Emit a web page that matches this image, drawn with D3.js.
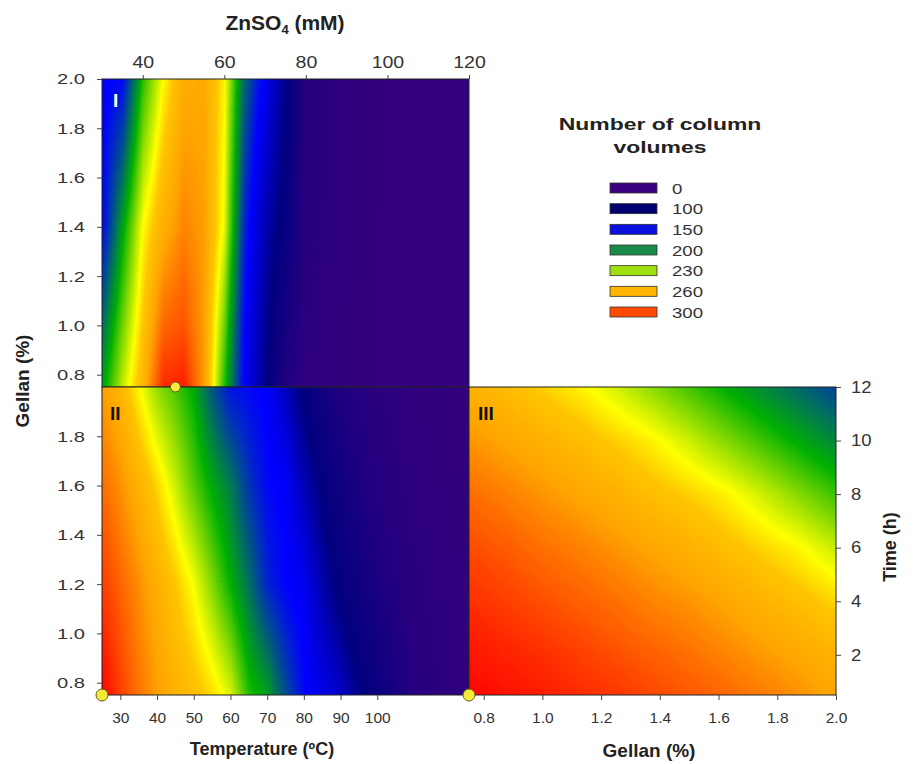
<!DOCTYPE html>
<html>
<head>
<meta charset="utf-8">
<script src="https://cdn.jsdelivr.net/npm/d3@7"></script>
<style>
  body { margin: 0; background: #fff; }
  text { font-family: "Liberation Sans", Arial, sans-serif; }
</style>
</head>
<body>
<svg id="chart" width="914" height="764"></svg>
<script>
// colour stops of the surfaces (number of column volumes)
var levels = [0, 100, 150, 200, 235, 245, 260, 300];
var levelColors = ["#33007f", "#000080", "#0000ff", "#00b000", "#ffff00", "#ffc400", "#ffa500", "#ff0000"];

// legend entries
var legendValues = ["0", "100", "150", "200", "230", "260", "300"];
var legendColors = ["#3a0082", "#000070", "#0a10e0", "#1a8a4a", "#a0e010", "#ffb400", "#ff4a00"];

// panel I : ZnSO4 (mM) vs gellan (%)
var znso4 = [30, 35, 40, 45, 50, 55, 60, 65, 70, 75, 80, 90, 100, 120];
var gellanRowsI = [2.0, 1.4, 1.0, 0.75];
var volumesI = [
  [148, 152, 205, 235, 256, 258, 237, 178, 145, 105, 30, 5, 0, 0],
  [150, 196, 235, 255, 268, 262, 232, 160, 120, 90, 25, 4, 0, 0],
  [180, 215, 245, 275, 280, 262, 215, 150, 110, 60, 15, 3, 0, 0],
  [195, 226, 252, 290, 293, 262, 205, 148, 105, 40, 10, 2, 0, 0]
];

// panel II : temperature (ºC) vs gellan (%)
var temperature = [25, 30, 35, 40, 45, 50, 55, 60, 65, 70, 75, 80, 90, 100, 110, 125];
var gellanRowsII = [2.0, 1.6, 1.2, 0.75];
var volumesII = [
  [262, 252, 236, 220, 210, 198, 174, 155, 152, 148, 125, 95, 40, 15, 5, 0],
  [274, 265, 254, 242, 228, 212, 198, 185, 165, 152, 148, 122, 70, 30, 10, 0],
  [286, 276, 266, 255, 245, 234, 218, 200, 182, 160, 150, 145, 92, 50, 18, 2],
  [300, 285, 272, 262, 254, 248, 241, 230, 205, 195, 172, 152, 128, 80, 25, 5]
];

// panel III : gellan (%) vs time (h)
var gellanCols = [0.75, 0.875, 1.0, 1.125, 1.25, 1.375, 1.5, 1.625, 1.75, 1.875, 2.0];
var timeRows = [12, 10, 8, 6, 4, 2, 0.5];
var volumesIII = [
  [254, 249, 243, 237, 229, 219, 209, 199, 189, 179, 169],
  [264, 259, 254, 249, 243, 237, 228, 218, 208, 198, 188],
  [274, 269, 264, 259, 254, 248, 243, 237, 228, 218, 208],
  [282, 278, 273, 269, 264, 259, 254, 248, 242, 236, 227],
  [289, 285, 281, 277, 273, 268, 264, 259, 253, 248, 242],
  [295, 292, 289, 285, 281, 277, 273, 268, 263, 258, 253],
  [299, 296, 293, 290, 287, 283, 279, 275, 270, 265, 258]
];

// optimum points
var optimumI = [48, 0.75];     // ZnSO4, gellan
var optimumII = [25, 0.75];    // temperature, gellan
var optimumIII = [0.75, 0.5];  // gellan, time

var svg = d3.select("#chart");

var xZn = d3.scaleLinear().domain([30, 120]).range([102, 469]);
var yI = d3.scaleLinear().domain([0.75, 2.0]).range([387, 79]);
var xT = d3.scaleLinear().domain([25, 125]).range([102, 469]);
var yII = d3.scaleLinear().domain([0.75, 2.0]).range([695, 387]);
var xG = d3.scaleLinear().domain([0.75, 2.0]).range([469, 836]);
var yTime = d3.scaleLinear().domain([0.5, 12]).range([695, 387]);

var color = d3.scaleLinear().domain(levels).range(levelColors).clamp(true);
var lut = d3.range(0, 301).map(function(v) { return d3.rgb(color(v)); });

// bilinear lookup in a grid of readings
function surface(xs, ys, grid) {
  var fi = d3.scaleLinear().domain(xs).range(d3.range(xs.length)).clamp(true);
  var fj = d3.scaleLinear().domain(ys).range(d3.range(ys.length)).clamp(true);
  return function(x, y) {
    var a = fi(x), b = fj(y);
    var i = Math.min(Math.floor(a), xs.length - 2), j = Math.min(Math.floor(b), ys.length - 2);
    var tx = a - i, ty = b - j;
    var top = grid[j][i] * (1 - tx) + grid[j][i + 1] * tx;
    var bot = grid[j + 1][i] * (1 - tx) + grid[j + 1][i + 1] * tx;
    return top * (1 - ty) + bot * ty;
  };
}

function drawField(xs, ys, f) {
  var x0 = xs.range()[0], x1 = xs.range()[1];
  var y0 = ys.range()[1], y1 = ys.range()[0];
  var w = Math.round(x1 - x0), h = Math.round(y1 - y0);
  var canvas = document.createElement("canvas");
  canvas.width = w; canvas.height = h;
  var ctx = canvas.getContext("2d");
  var img = ctx.createImageData(w, h);
  for (var j = 0; j < h; j++) {
    var yv = ys.invert(y0 + j + 0.5);
    for (var i = 0; i < w; i++) {
      var v = f(xs.invert(x0 + i + 0.5), yv);
      var c = lut[Math.max(0, Math.min(300, Math.round(v)))];
      var k = (j * w + i) * 4;
      img.data[k] = c.r; img.data[k + 1] = c.g; img.data[k + 2] = c.b; img.data[k + 3] = 255;
    }
  }
  ctx.putImageData(img, 0, 0);
  svg.append("image")
    .attr("x", x0).attr("y", y0)
    .attr("width", w).attr("height", h)
    .attr("preserveAspectRatio", "none")
    .attr("href", canvas.toDataURL());
  svg.append("rect")
    .attr("x", x0).attr("y", y0)
    .attr("width", w).attr("height", h)
    .attr("fill", "none")
    .attr("stroke", "#222")
    .attr("stroke-width", 1);
}

drawField(xZn, yI, surface(znso4, gellanRowsI, volumesI));
drawField(xT, yII, surface(temperature, gellanRowsII, volumesII));
drawField(xG, yTime, surface(gellanCols, timeRows, volumesIII));

// the source figure has some labels stretched sideways
function stretch(sel, sx) {
  sel.each(function() {
    var t = d3.select(this);
    var x = +t.attr("x") || 0, y = +t.attr("y") || 0;
    t.attr("x", 0).attr("y", 0)
      .attr("transform", "translate(" + x + "," + y + ") scale(" + sx + ",1)");
  });
}

function styleAxis(size, sx) {
  return function(g) {
    g.select(".domain").remove();
    g.selectAll(".tick line").attr("stroke", "#444");
    g.selectAll(".tick text")
      .attr("fill", "#333")
      .style("font-size", size + "px")
      .style("font-family", "'Liberation Sans', Arial, sans-serif");
    if (sx) stretch(g.selectAll(".tick text"), sx);
  };
}

svg.append("g").attr("transform", "translate(102,0)")
  .call(d3.axisLeft(yI).tickValues([0.8, 1.0, 1.2, 1.4, 1.6, 1.8, 2.0]).tickFormat(d3.format(".1f")).tickSize(5).tickPadding(12))
  .call(styleAxis(15.5, 1.3));
svg.append("g").attr("transform", "translate(102,0)")
  .call(d3.axisLeft(yII).tickValues([0.8, 1.0, 1.2, 1.4, 1.6, 1.8]).tickFormat(d3.format(".1f")).tickSize(5).tickPadding(12))
  .call(styleAxis(15.5, 1.3));
svg.append("g").attr("transform", "translate(0,79)")
  .call(d3.axisTop(xZn).tickValues([40, 60, 80, 100, 120]).tickSize(4).tickPadding(7))
  .call(styleAxis(17, 1.15));
svg.append("g").attr("transform", "translate(0,695)")
  .call(d3.axisBottom(xT).tickValues(d3.range(30, 101, 10)).tickSize(5).tickPadding(12))
  .call(styleAxis(15.5));
svg.append("g").attr("transform", "translate(0,695)")
  .call(d3.axisBottom(xG).tickValues([0.8, 1.0, 1.2, 1.4, 1.6, 1.8, 2.0]).tickFormat(d3.format(".1f")).tickSize(5).tickPadding(12))
  .call(styleAxis(15.5));
svg.append("g").attr("transform", "translate(836,0)")
  .call(d3.axisRight(yTime).tickValues([2, 4, 6, 8, 10, 12]).tickSize(5).tickPadding(10))
  .call(styleAxis(16.5, 1.12));

// axis titles
var title = svg.append("text")
  .attr("x", 285).attr("y", 30)
  .attr("text-anchor", "middle")
  .style("font-size", "21px").style("font-weight", "bold").attr("fill", "#222");
title.append("tspan").text("ZnSO");
title.append("tspan").attr("dy", 4).style("font-size", "13px").text("4");
title.append("tspan").attr("dy", -4).text(" (mM)");

svg.append("text")
  .attr("transform", "translate(29,381) rotate(-90)")
  .attr("text-anchor", "middle")
  .style("font-size", "19px").style("font-weight", "bold").attr("fill", "#222")
  .text("Gellan (%)");

svg.append("text")
  .attr("x", 262).attr("y", 755)
  .attr("text-anchor", "middle")
  .style("font-size", "18px").style("font-weight", "bold").attr("fill", "#222")
  .text("Temperature (ºC)");

svg.append("text")
  .attr("x", 649).attr("y", 757)
  .attr("text-anchor", "middle")
  .style("font-size", "19px").style("font-weight", "bold").attr("fill", "#222")
  .text("Gellan (%)");

svg.append("text")
  .attr("transform", "translate(896,547) rotate(-90)")
  .attr("text-anchor", "middle")
  .style("font-size", "18px").style("font-weight", "bold").attr("fill", "#222")
  .text("Time (h)");

// panel labels
svg.append("text").attr("x", 113).attr("y", 107)
  .style("font-size", "19px").style("font-weight", "bold").attr("fill", "#fff").text("I");
svg.append("text").attr("x", 110).attr("y", 420)
  .style("font-size", "19px").style("font-weight", "bold").attr("fill", "#111").text("II");
svg.append("text").attr("x", 478).attr("y", 420)
  .style("font-size", "19px").style("font-weight", "bold").attr("fill", "#111").text("III");

// optimum markers
[[xZn(optimumI[0]), yI(optimumI[1])],
 [xT(optimumII[0]), yII(optimumII[1])],
 [xG(optimumIII[0]), yTime(optimumIII[1])]].forEach(function(p, i) {
  svg.append("circle")
    .attr("cx", p[0]).attr("cy", p[1])
    .attr("r", i === 0 ? 5 : 6)
    .attr("fill", "#f5ec3a")
    .attr("stroke", "#6a5a10")
    .attr("stroke-width", 1);
});

// legend
var legend = svg.append("g");
legend.selectAll("text.head").data(["Number of column", "volumes"]).enter()
  .append("text").attr("class", "head")
  .attr("transform", function(d, i) { return "translate(660," + (130 + i * 23) + ") scale(1.35,1)"; })
  .attr("text-anchor", "middle")
  .style("font-size", "17px").style("font-weight", "bold").attr("fill", "#222")
  .text(function(d) { return d; });

var ly = d3.scalePoint().domain(legendValues).range([188, 312]);
var rows = legend.selectAll("g.item").data(legendValues).enter()
  .append("g").attr("class", "item")
  .attr("transform", function(d) { return "translate(0," + ly(d) + ")"; });
rows.append("rect")
  .attr("x", 610).attr("y", -5)
  .attr("width", 47).attr("height", 10)
  .attr("fill", function(d, i) { return legendColors[i]; })
  .attr("stroke", "#333").attr("stroke-width", 0.8);
rows.append("text")
  .attr("transform", "translate(672,5.5) scale(1.2,1)")
  .style("font-size", "15.5px").attr("fill", "#333")
  .text(function(d) { return d; });
</script>
</body>
</html>
